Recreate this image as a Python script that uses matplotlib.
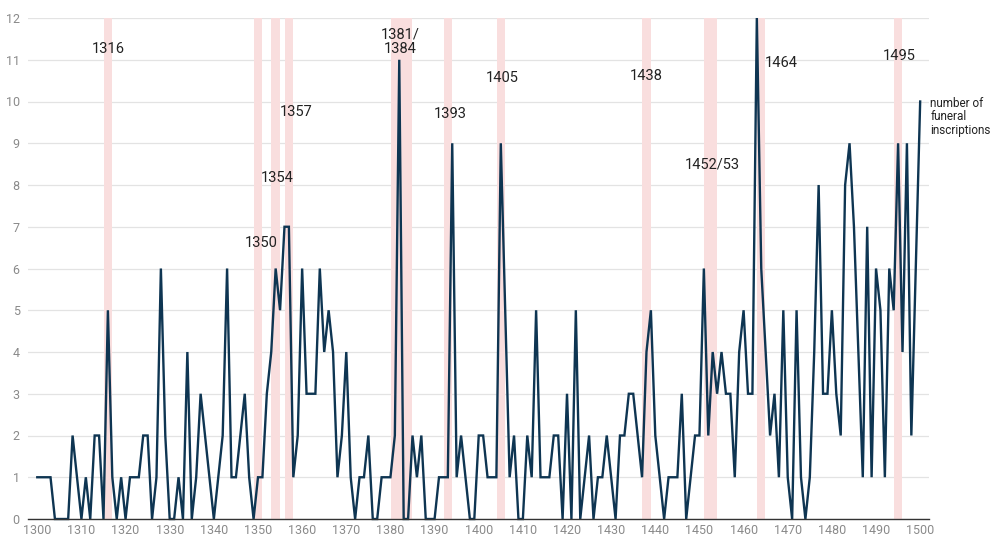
import matplotlib
matplotlib.use("Agg")
import matplotlib.pyplot as plt
import numpy as np

plt.rcParams['font.family'] = ['Roboto', 'DejaVu Sans']

years = list(range(1300, 1501))
inscriptions = [
    1, 1, 1, 1, 0, 0, 0, 0, 2, 1,      # 1300-1309
    0, 1, 0, 2, 2, 0, 5, 1, 0, 1,      # 1310-1319
    0, 1, 1, 1, 2, 2, 0, 1, 6, 2,      # 1320-1329
    0, 0, 1, 0, 4, 0, 1, 3, 2, 1,      # 1330-1339
    0, 1, 2, 6, 1, 1, 2, 3, 1, 0,      # 1340-1349
    1, 1, 3, 4, 6, 5, 7, 7, 1, 2,      # 1350-1359
    6, 3, 3, 3, 6, 4, 5, 4, 1, 2,      # 1360-1369
    4, 1, 0, 1, 1, 2, 0, 0, 1, 1,      # 1370-1379
    1, 2, 11, 0, 0, 2, 1, 2, 0, 0,     # 1380-1389
    0, 1, 1, 1, 9, 1, 2, 1, 0, 0,      # 1390-1399
    2, 2, 1, 1, 1, 9, 5, 1, 2, 0,      # 1400-1409
    0, 2, 1, 5, 1, 1, 1, 2, 2, 0,      # 1410-1419
    3, 0, 5, 0, 1, 2, 0, 1, 1, 2,      # 1420-1429
    1, 0, 2, 2, 3, 3, 2, 1, 4, 5,      # 1430-1439
    2, 1, 0, 1, 1, 1, 3, 0, 1, 2,      # 1440-1449
    2, 6, 2, 4, 3, 4, 3, 3, 1, 4,      # 1450-1459
    5, 3, 3, 12, 6, 4, 2, 3, 1, 5,     # 1460-1469
    1, 0, 5, 1, 0, 1, 4, 8, 3, 3,      # 1470-1479
    5, 3, 2, 8, 9, 7, 4, 1, 7, 1,      # 1480-1489
    6, 5, 1, 6, 5, 9, 4, 9, 2, 6,      # 1490-1499
    10,                                # 1500
]

# plague years: (first year, last year, label)
plague_start = [1316, 1350, 1354, 1357, 1381, 1393, 1405, 1438, 1452, 1464, 1495]
plague_end = [1316, 1350, 1354, 1357, 1384, 1393, 1405, 1438, 1453, 1464, 1495]
plague_labels = ["1316", "1350", "1354", "1357", "1381/\n1384", "1393", "1405",
                 "1438", "1452/53", "1464", "1495"]
label_x = [1316.2, 1350.7, 1354.3, 1358.6, 1382.2, 1393.5, 1405.3, 1437.9, 1452.9, 1468.5, 1495.2]
label_y = [11.25, 6.62, 8.16, 9.75, 11.42, 9.69, 10.57, 10.6, 8.5, 10.92, 11.1]

y_ticks = list(range(0, 13))
x_ticks = list(range(1300, 1501, 10))
series_name = "number of\nfuneral\ninscriptions"

fig = plt.figure(figsize=(9.91, 5.37), dpi=100)
ax = fig.add_axes([28 / 991, 1 - 519 / 537, (929 - 28) / 991, (519 - 18) / 537])

for s, e in zip(plague_start, plague_end):
    ax.axvspan(s - 0.95, e + 0.95, color='#f9dede', lw=0, zorder=1)

ax.plot(years, inscriptions, color='#0e3552', lw=1.7, zorder=3, clip_on=False,
        solid_joinstyle='miter')

for t, x, y in zip(plague_labels, label_x, label_y):
    ax.text(x, y, t, ha='center', va='center', fontsize=10.5, color='#222222',
            zorder=4, linespacing=1.05)

ax.text(1502.3, 9.63, series_name, ha='left', va='center', fontsize=8.5,
        color='#222222', clip_on=False, linespacing=1.05)

ax.set_xlim(1297.9, 1502.0)
ax.set_ylim(0, 12)
ax.set_xticks(x_ticks)
ax.set_yticks(y_ticks)
ax.tick_params(axis='both', length=0, labelsize=9, labelcolor='#8a8a8a')
ax.tick_params(axis='x', pad=3.5)
ax.tick_params(axis='y', pad=6)
ax.grid(axis='y', color='#e3e3e3', lw=0.9, zorder=0)
ax.set_axisbelow(True)
for side in ['top', 'right', 'left']:
    ax.spines[side].set_visible(False)
ax.spines['bottom'].set_color('#333333')
ax.spines['bottom'].set_linewidth(1.0)
ax.spines['bottom'].set_zorder(5)

fig.savefig('out.png', dpi=100)
